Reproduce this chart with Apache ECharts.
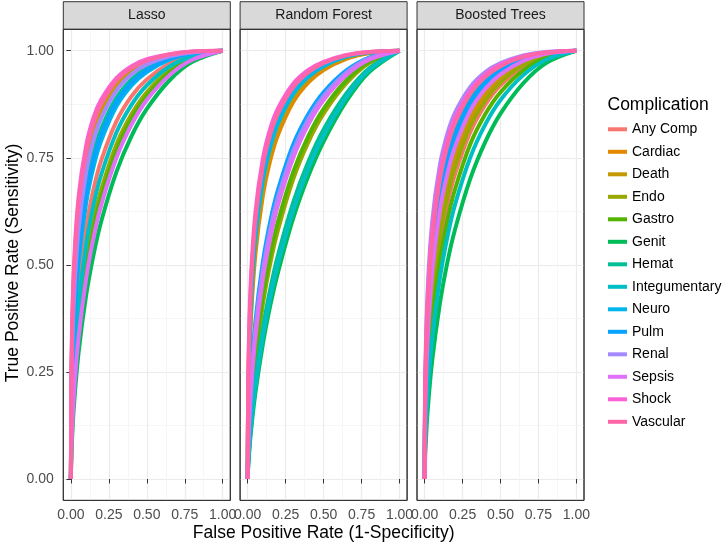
<!DOCTYPE html>
<html>
<head>
<meta charset="utf-8">
<script src="https://cdn.jsdelivr.net/npm/echarts@6/dist/echarts.min.js"></script>
<style>
html,body{margin:0;padding:0;background:#fff;}
#chart{width:726px;height:547px;}
</style>
</head>
<body>
<div id="chart"></div>
<script>
// ---- data ----
const fpr = [0, 0.005, 0.02, 0.05, 0.1, 0.15, 0.2, 0.3, 0.4, 0.5, 0.65, 0.8, 1];
const complications = ['Any Comp','Cardiac','Death','Endo','Gastro','Genit','Hemat','Integumentary','Neuro','Pulm','Renal','Sepsis','Shock','Vascular'];
const colors = ['#F8766D','#E38900','#C49A00','#99A800','#53B400','#00BC56','#00C094','#00BFC4','#00B6EB','#06A4FF','#A58AFF','#DF70F8','#FB61D7','#FF66A8'];
const panelNames = ['Lasso','Random Forest','Boosted Trees'];
const tickValues = [0, 0.25, 0.5, 0.75, 1];
const tickLabels = ['0.00','0.25','0.50','0.75','1.00'];
const minorValues = [0.125, 0.375, 0.625, 0.875];

const lassoTPR = [
  [0,.141,.290,.442,.586,.678,.744,.835,.894,.933,.970,.990,1],
  [0,.250,.439,.601,.732,.806,.855,.915,.950,.971,.989,.997,1],
  [0,.266,.459,.620,.748,.820,.866,.923,.955,.974,.990,.997,1],
  [0,.101,.226,.365,.507,.604,.676,.781,.852,.903,.954,.984,1],
  [0,.093,.211,.346,.487,.585,.658,.766,.841,.894,.949,.982,1],
  [0,.070,.170,.293,.428,.525,.602,.717,.801,.864,.931,.974,1],
  [0,.205,.381,.542,.680,.762,.818,.890,.933,.960,.984,.995,1],
  [0,.120,.257,.403,.547,.642,.711,.809,.874,.919,.963,.987,1],
  [0,.177,.343,.502,.643,.730,.790,.870,.919,.950,.979,.994,1],
  [0,.191,.362,.522,.662,.746,.804,.880,.926,.955,.981,.994,1],
  [0,.234,.419,.581,.715,.792,.843,.907,.945,.968,.987,.996,1],
  [0,.085,.197,.328,.467,.565,.640,.750,.828,.885,.943,.979,1],
  [0,.300,.498,.657,.778,.845,.886,.936,.964,.980,.992,.998,1],
  [0,.283,.478,.639,.763,.832,.876,.930,.960,.977,.991,.998,1]
];
const forestTPR = [
  [0,.234,.419,.581,.715,.792,.843,.907,.945,.968,.987,.996,1],
  [0,.191,.362,.522,.662,.746,.804,.880,.926,.955,.981,.994,1],
  [0,.205,.381,.542,.680,.762,.818,.890,.933,.960,.984,.995,1],
  [0,.064,.158,.276,.408,.506,.582,.700,.787,.853,.924,.971,1],
  [0,.070,.170,.293,.428,.525,.602,.717,.801,.864,.931,.974,1],
  [0,.038,.105,.199,.315,.407,.483,.609,.708,.788,.882,.950,1],
  [0,.047,.125,.228,.351,.446,.523,.646,.741,.816,.900,.959,1],
  [0,.042,.114,.213,.333,.426,.503,.628,.725,.802,.891,.955,1],
  [0,.219,.400,.562,.698,.777,.831,.899,.939,.964,.986,.996,1],
  [0,.101,.226,.365,.507,.604,.676,.781,.852,.903,.954,.984,1],
  [0,.093,.211,.346,.487,.585,.658,.766,.841,.894,.949,.982,1],
  [0,.085,.197,.328,.467,.565,.640,.750,.828,.885,.943,.979,1],
  [0,.266,.459,.620,.748,.820,.866,.923,.955,.974,.990,.997,1],
  [0,.250,.439,.601,.732,.806,.855,.915,.950,.971,.989,.997,1]
];
const boostedTPR = [
  [0,.120,.257,.403,.547,.642,.711,.809,.874,.919,.963,.987,1],
  [0,.141,.290,.442,.586,.678,.744,.835,.894,.933,.970,.990,1],
  [0,.153,.307,.462,.606,.696,.760,.847,.903,.939,.973,.992,1],
  [0,.130,.273,.423,.567,.660,.728,.823,.884,.926,.967,.989,1],
  [0,.101,.226,.365,.507,.604,.676,.781,.852,.903,.954,.984,1],
  [0,.064,.158,.276,.408,.506,.582,.700,.787,.853,.924,.971,1],
  [0,.205,.381,.542,.680,.762,.818,.890,.933,.960,.984,.995,1],
  [0,.085,.197,.328,.467,.565,.640,.750,.828,.885,.943,.979,1],
  [0,.177,.343,.502,.643,.730,.790,.870,.919,.950,.979,.994,1],
  [0,.191,.362,.522,.662,.746,.804,.880,.926,.955,.981,.994,1],
  [0,.250,.439,.601,.732,.806,.855,.915,.950,.971,.989,.997,1],
  [0,.165,.325,.482,.625,.713,.775,.859,.911,.945,.976,.993,1],
  [0,.234,.419,.581,.715,.792,.843,.907,.945,.968,.987,.996,1],
  [0,.219,.400,.562,.698,.777,.831,.899,.939,.964,.986,.996,1]
];
const panelData = [lassoTPR, forestTPR, boostedTPR];

// ---- layout ----
const FONT = '"Liberation Sans", Arial, Helvetica, sans-serif';
const panelLeft = [63.3, 240.1, 417.0];
const panelW = 167;
const panelTop = 29.3;
const panelH = 471.1;
const stripTop = 1.7;

const grids = [], xAxes = [], yAxes = [], series = [], graphics = [];
const fmt = v => { const i = tickValues.indexOf(+v.toFixed(3)); return i >= 0 ? tickLabels[i] : ''; };

panelNames.forEach((name, p) => {
  grids.push({left: panelLeft[p], top: panelTop, width: panelW, height: panelH,
    show: true, backgroundColor: '#fff', borderColor: '#333333', borderWidth: 1, containLabel: false});
  xAxes.push({gridIndex: p, type: 'value', min: -0.05, max: 1.05, position: 'bottom',
    axisLine: {show: false},
    axisTick: {show: true, length: 4.5, customValues: tickValues, lineStyle: {color: '#333333', width: 1}},
    axisLabel: {customValues: tickValues, formatter: fmt, fontSize: 14, color: '#4D4D4D', margin: 8, fontFamily: FONT, hideOverlap: false},
    splitLine: {show: true, lineStyle: {color: '#EBEBEB', width: 1.2}}
  });
  xAxes.push({gridIndex: p, type: 'value', min: -0.05, max: 1.05, position: 'top',
    axisLine: {show: false},
    axisTick: {show: false, customValues: minorValues},
    axisLabel: {show: false, customValues: minorValues},
    splitLine: {show: true, lineStyle: {color: '#F4F4F4', width: 0.8}}
  });
  yAxes.push({gridIndex: p, type: 'value', min: -0.05, max: 1.05, position: 'left',
    axisLine: {show: false},
    axisTick: {show: p === 0, length: 4.5, customValues: tickValues, lineStyle: {color: '#333333', width: 1}},
    axisLabel: {show: p === 0, customValues: tickValues, formatter: fmt, fontSize: 14, color: '#4D4D4D', margin: 9.5, fontFamily: FONT},
    splitLine: {show: true, lineStyle: {color: '#EBEBEB', width: 1.2}}
  });
  yAxes.push({gridIndex: p, type: 'value', min: -0.05, max: 1.05, position: 'right',
    axisLine: {show: false},
    axisTick: {show: false, customValues: minorValues},
    axisLabel: {show: false, customValues: minorValues},
    splitLine: {show: true, lineStyle: {color: '#F4F4F4', width: 0.8}}
  });
  panelData[p].forEach((tpr, k) => {
    series.push({
      name: complications[k], type: 'line', xAxisIndex: 2 * p, yAxisIndex: 2 * p,
      data: fpr.map((x, j) => [x, tpr[j]]),
      showSymbol: false, symbol: 'none', smooth: 0.35,
      color: colors[k],
      lineStyle: {color: colors[k], width: 4, join: 'round', cap: 'butt'},
      itemStyle: {color: colors[k]},
      emphasis: {disabled: true}, silent: true, animation: false, z: 3
    });
  });
  graphics.push({type: 'rect', shape: {x: panelLeft[p], y: stripTop, width: panelW, height: panelTop - stripTop},
    style: {fill: '#D9D9D9', stroke: '#333333', lineWidth: 1}, z: 10});
  graphics.push({type: 'text', x: panelLeft[p] + panelW / 2, y: (stripTop + panelTop) / 2,
    style: {text: name, fill: '#1A1A1A', font: '14px ' + FONT, textAlign: 'center', textVerticalAlign: 'middle'}, z: 11});
  graphics.push({type: 'rect', shape: {x: panelLeft[p], y: panelTop, width: panelW, height: panelH},
    style: {fill: null, stroke: '#333333', lineWidth: 1}, z: 10, silent: true});
});

graphics.push({type: 'text', x: (panelLeft[0] + panelLeft[2] + panelW) / 2, y: 533,
  style: {text: 'False Positive Rate (1-Specificity)', fill: '#000', font: '17.5px ' + FONT, textAlign: 'center', textVerticalAlign: 'middle'}});
graphics.push({type: 'text', x: 13, y: 263, rotation: Math.PI / 2,
  style: {text: 'True Positive Rate (Sensitivity)', fill: '#000', font: '17.5px ' + FONT, textAlign: 'center', textVerticalAlign: 'middle'}});
graphics.push({type: 'text', x: 607.5, y: 105,
  style: {text: 'Complication', fill: '#000', font: '17.5px ' + FONT, textAlign: 'left', textVerticalAlign: 'middle'}});

const chart = echarts.init(document.getElementById('chart'), null, {renderer: 'canvas'});
chart.setOption({
  animation: false,
  backgroundColor: '#fff',
  grid: grids, xAxis: xAxes, yAxis: yAxes, series: series,
  legend: {orient: 'vertical', left: 608, top: 121.3, padding: 0, data: complications, selectedMode: false,
    icon: 'rect', itemWidth: 19, itemHeight: 4, itemGap: 6.5, itemStyle: {borderWidth: 0},
    textStyle: {fontSize: 14, color: '#000', lineHeight: 16, fontFamily: FONT}},
  graphic: graphics
});
</script>
</body>
</html>
